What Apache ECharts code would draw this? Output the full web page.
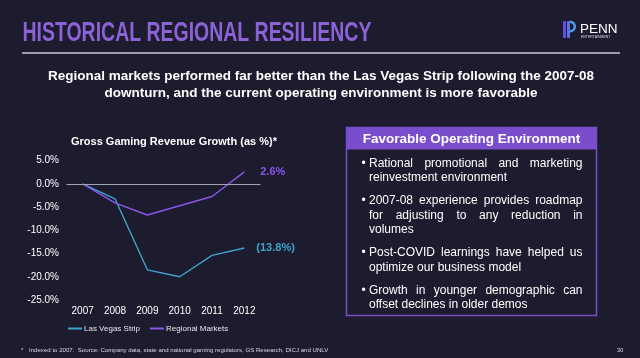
<!DOCTYPE html>
<html>
<head>
<meta charset="utf-8">
<script src="https://cdn.jsdelivr.net/npm/echarts@6/dist/echarts.min.js"></script>
<style>
html,body{margin:0;padding:0;background:#1d1b2e;}
#chart{width:640px;height:358px;}
</style>
</head>
<body>
<div id="chart"></div>
<script>
// ---- data ----
const years = ['2007', '2008', '2009', '2010', '2011', '2012'];
const lasVegasStrip = [0, -3.2, -18.5, -20.0, -15.4, -13.8];
const regionalMarkets = [0, -4.1, -6.7, -4.7, -2.7, 2.6];
const yMin = -25, yMax = 5, yInterval = 5;
const seriesNames = ['Las Vegas Strip', 'Regional Markets'];

const pageTitle = 'HISTORICAL REGIONAL RESILIENCY';
const subtitleLines = [
  'Regional markets performed far better than the Las Vegas Strip following the 2007-08',
  'downturn, and the current operating environment is more favorable'
];
const chartTitle = 'Gross Gaming Revenue Growth (as %)*';
const boxTitle = 'Favorable Operating Environment';
const bulletParagraphs = [
  ['Rational promotional and marketing', 'reinvestment environment'],
  ['2007-08 experience provides roadmap', 'for adjusting to any reduction in', 'volumes'],
  ['Post-COVID learnings have helped us', 'optimize our business model'],
  ['Growth in younger demographic can', 'offset declines in older demos']
];
const footnote = 'Indexed to 2007.  Source: Company data, state and national gaming regulators, GS Research, DICJ and UNLV';
const pageNumber = '30';

// ---- style ----
const BG = '#1d1b2e';
const TEAL = '#3ea4cc';
const PURPLE = '#8a55ea';
const BOX = '#7a4dcc';
const FONT = '"Liberation Sans", Arial, sans-serif';

const chart = echarts.init(document.getElementById('chart'));

// measure helper for justified text
const mctx = document.createElement('canvas').getContext('2d');
function measure(t, font) { mctx.font = font; return mctx.measureText(t).width; }

const graphics = [];
// page title (condensed look)
graphics.push({
  type: 'text', x: 22.5, y: 33, scaleX: 0.695,
  style: { text: pageTitle, font: 'bold 28px ' + FONT, fill: '#8b63d6', textVerticalAlign: 'middle' }
});
// rule
graphics.push({
  type: 'line', shape: { x1: 22, y1: 53, x2: 620, y2: 53 },
  style: { stroke: '#9c9ca8', lineWidth: 2 }
});
// logo
graphics.push({
  type: 'group', children: [
    { type: 'rect', shape: { x: 563, y: 21, width: 3, height: 17, r: 1 }, style: { fill: '#6a4be0' } },
    { type: 'rect', shape: { x: 567, y: 21, width: 3, height: 17, r: 1 }, style: { fill: '#5a74e8' } },
    { type: 'arc', shape: { cx: 570, cy: 26.5, r: 4.8, startAngle: -Math.PI / 2, endAngle: Math.PI / 2 }, style: { stroke: '#4aa0f0', lineWidth: 2.5, fill: null } },
    { type: 'text', x: 580, y: 29, style: { text: 'PENN', font: '13.5px ' + FONT, fill: '#ffffff', textVerticalAlign: 'middle' } },
    { type: 'text', x: 581, y: 37.5, style: { text: 'ENTERTAINMENT', font: '3.5px ' + FONT, fill: '#d8d8e0', textVerticalAlign: 'middle' } }
  ]
});
// subtitle
const subY = [76.7, 93.5];
subtitleLines.forEach((t, i) => graphics.push({
  type: 'text', x: 321, y: subY[i],
  style: { text: t, font: 'bold 13.5px ' + FONT, fill: '#ffffff', textAlign: 'center', textVerticalAlign: 'middle' }
}));
// box
graphics.push({ type: 'rect', shape: { x: 346.5, y: 127.5, width: 250, height: 188 }, style: { stroke: BOX, lineWidth: 1.5, fill: null } });
graphics.push({ type: 'rect', shape: { x: 346.5, y: 127.5, width: 250, height: 22 }, style: { fill: BOX } });
graphics.push({ type: 'text', x: 471.5, y: 139, style: { text: boxTitle, font: 'bold 13.5px ' + FONT, fill: '#ffffff', textAlign: 'center', textVerticalAlign: 'middle' } });
// bullets (justified)
const bFont = '12px ' + FONT;
const tx0 = 369, tWidth = 213.5;
let yy = 163.3;
bulletParagraphs.forEach(lines => {
  graphics.push({ type: 'text', x: 361.5, y: yy, style: { text: '•', font: bFont, fill: '#ffffff', textVerticalAlign: 'middle' } });
  lines.forEach((line, li) => {
    const justify = li < lines.length - 1;
    if (!justify) {
      graphics.push({ type: 'text', x: tx0, y: yy, style: { text: line, font: bFont, fill: '#ffffff', textVerticalAlign: 'middle' } });
    } else {
      const words = line.split(' ');
      const ws = words.map(w => measure(w, bFont));
      const sum = ws.reduce((a, b) => a + b, 0);
      const gap = (tWidth - sum) / (words.length - 1);
      let x = tx0;
      words.forEach((w, wi) => {
        graphics.push({ type: 'text', x: x, y: yy, style: { text: w, font: bFont, fill: '#ffffff', textVerticalAlign: 'middle' } });
        x += ws[wi] + gap;
      });
    }
    yy += 14.5;
  });
  yy += 8.6;
});
// footnote
graphics.push({ type: 'text', x: 21, y: 350.5, style: { text: '*', font: '6.1px ' + FONT, fill: '#d8d8e0', textVerticalAlign: 'middle' } });
graphics.push({ type: 'text', x: 29, y: 350.5, style: { text: footnote, font: '6.1px ' + FONT, fill: '#d8d8e0', textVerticalAlign: 'middle' } });
graphics.push({ type: 'text', x: 620, y: 350, style: { text: pageNumber, font: '6px ' + FONT, fill: '#d8d8e0', textAlign: 'center', textVerticalAlign: 'middle' } });

const fmtPct = p => {
  const v = Array.isArray(p.value) ? p.value[1] : p.value;
  return v < 0 ? '(' + Math.abs(v).toFixed(1) + '%)' : v.toFixed(1) + '%';
};

const option = {
  backgroundColor: BG,
  animation: false,
  textStyle: { fontFamily: FONT },
  title: {
    text: chartTitle, left: 66, top: 131.5,
    textStyle: { color: '#ffffff', fontSize: 11, fontWeight: 'bold', fontFamily: FONT }
  },
  legend: {
    data: seriesNames, left: 63, top: 319.5, itemWidth: 14, itemHeight: 2, itemGap: 10,
    icon: 'rect',
    textStyle: { color: '#e6e6ee', fontSize: 8, fontFamily: FONT, padding: [0, 0, 0, -3] }
  },
  grid: { left: 66.5, right: 379.5, top: 160.7, bottom: 58 },
  xAxis: {
    type: 'category', data: years, boundaryGap: true,
    axisLine: { show: false, onZero: false }, axisTick: { show: false },
    axisLabel: { color: '#ffffff', fontSize: 10, margin: 6, fontFamily: FONT }
  },
  yAxis: {
    type: 'value', min: yMin, max: yMax, interval: yInterval,
    splitLine: { show: false }, axisLine: { show: false }, axisTick: { show: false },
    axisLabel: { color: '#ffffff', fontSize: 10, margin: 7.5, fontFamily: FONT, formatter: v => v.toFixed(1) + '%' }
  },
  series: [
    {
      name: seriesNames[0], type: 'line', color: TEAL, symbol: 'none',
      lineStyle: { width: 1.4, color: TEAL },
      data: lasVegasStrip,
      endLabel: { show: true, distance: 12, color: TEAL, fontSize: 11, fontWeight: 'bold', fontFamily: FONT, formatter: fmtPct },
      markLine: {
        silent: true, symbol: 'none', label: { show: false },
        lineStyle: { color: '#a4a4ae', width: 1, type: 'solid' },
        data: [{ yAxis: 0 }]
      },
      z: 3
    },
    {
      name: seriesNames[1], type: 'line', color: PURPLE, symbol: 'none',
      lineStyle: { width: 1.4, color: PURPLE },
      data: regionalMarkets,
      endLabel: { show: true, distance: 16, color: PURPLE, fontSize: 11, fontWeight: 'bold', fontFamily: FONT, formatter: fmtPct },
      z: 4
    }
  ],
  graphic: { elements: graphics }
};
chart.setOption(option);
</script>
</body>
</html>
